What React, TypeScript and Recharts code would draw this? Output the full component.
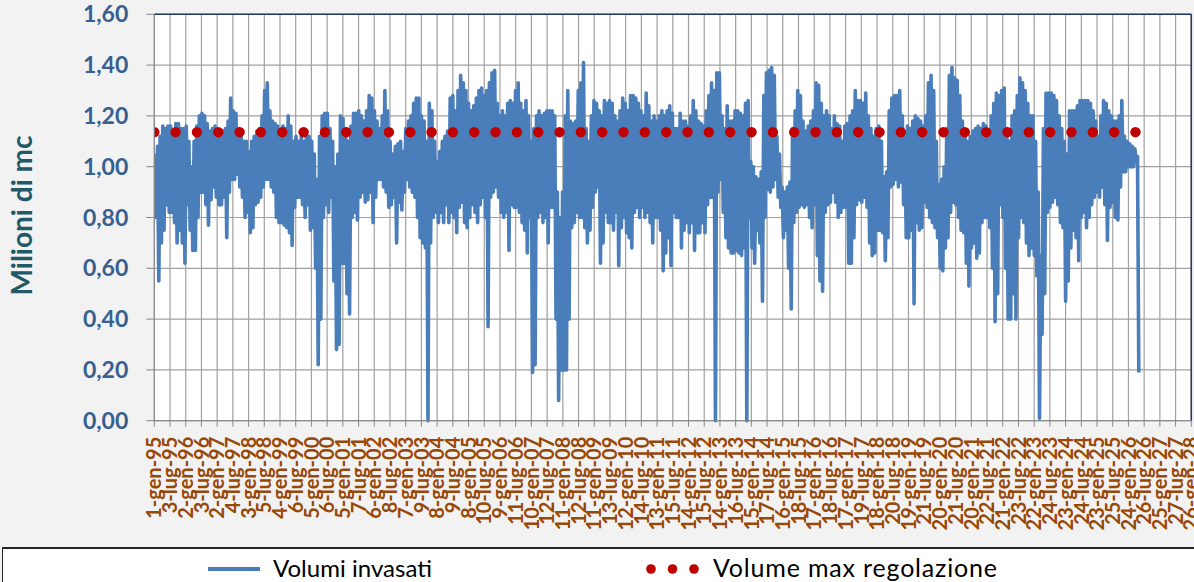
import React from 'react';
import { ComposedChart, Line, XAxis, YAxis, CartesianGrid, ReferenceLine } from 'recharts';

// Tick labels of the date axis (one every 183 days from 1-gen-95)
const tickLabels = [
  '1-gen-95', '3-lug-95', '2-gen-96', '3-lug-96', '2-gen-97', '4-lug-97', '3-gen-98', '5-lug-98',
  '4-gen-99', '6-lug-99', '5-gen-00', '6-lug-00', '5-gen-01', '7-lug-01', '6-gen-02', '8-lug-02',
  '7-gen-03', '9-lug-03', '8-gen-04', '9-lug-04', '8-gen-05', '10-lug-05', '9-gen-06', '11-lug-06',
  '10-gen-07', '12-lug-07', '11-gen-08', '12-lug-08', '11-gen-09', '13-lug-09', '12-gen-10', '14-lug-10',
  '13-gen-11', '15-lug-11', '14-gen-12', '15-lug-12', '14-gen-13', '16-lug-13', '15-gen-14', '17-lug-14',
  '16-gen-15', '18-lug-15', '17-gen-16', '18-lug-16', '17-gen-17', '19-lug-17', '18-gen-18', '20-lug-18',
  '19-gen-19', '21-lug-19', '20-gen-20', '21-lug-20', '20-gen-21', '22-lug-21', '21-gen-22', '23-lug-22',
  '22-gen-23', '24-lug-23', '23-gen-24', '24-lug-24', '23-gen-25', '25-lug-25', '24-gen-26', '26-lug-26',
  '25-gen-27', '27-lug-27', '26-gen-28',
];
const tickDays = tickLabels.map((_, i) => i * 183);

const yTicks = [0, 0.2, 0.4, 0.6, 0.8, 1.0, 1.2, 1.4, 1.6];

// Volumi invasati (milioni di mc): per month, high then low reading
const v1995 = [1.05,0.80, 1.08,0.55, 1.12,0.70, 1.16,0.75, 1.15,0.85, 1.16,0.82, 1.16,0.82, 1.14,0.78, 1.17,0.70, 1.17,0.75, 1.15,0.70, 1.15,0.62];
const v1996 = [1.16,0.85, 1.10,0.75, 1.00,0.67, 1.10,0.67, 1.16,0.80, 1.20,0.90, 1.21,0.90, 1.20,0.85, 1.17,0.77, 1.14,0.87, 1.15,0.92, 1.16,0.88];
const v1997 = [1.14,0.85, 1.12,0.85, 1.14,0.88, 1.15,0.72, 1.18,0.90, 1.27,0.95, 1.22,0.95, 1.21,0.97, 1.15,0.92, 1.12,0.88, 1.10,0.80, 1.10,0.82];
const v1998 = [1.06,0.74, 1.10,0.76, 1.12,0.85, 1.14,0.86, 1.15,0.88, 1.20,0.92, 1.30,0.95, 1.33,0.95, 1.22,0.92, 1.18,0.90, 1.17,0.80, 1.16,0.78];
const v1999 = [1.14,0.78, 1.16,0.77, 1.15,0.76, 1.20,0.74, 1.16,0.69, 1.10,0.84, 1.12,0.88, 1.10,0.88, 1.12,0.85, 1.10,0.80, 1.12,0.85, 1.12,0.75];
const v2000 = [1.10,0.76, 1.05,0.60, 0.95,0.22, 1.12,0.40, 1.20,0.80, 1.21,0.85, 1.21,0.82, 1.15,0.88, 1.10,0.55, 1.00,0.28, 1.05,0.30, 1.20,0.62];
const v2001 = [1.19,0.62, 1.15,0.50, 1.10,0.42, 1.16,0.80, 1.21,0.82, 1.21,0.79, 1.22,0.88, 1.20,0.90, 1.18,0.86, 1.22,0.87, 1.28,0.90, 1.27,0.78];
const v2002 = [1.22,0.88, 1.18,0.95, 1.15,0.95, 1.20,0.92, 1.30,0.90, 1.22,0.84, 1.10,0.85, 1.05,0.88, 1.08,0.70, 1.09,0.86, 1.10,0.83, 1.06,0.90];
const v2003 = [1.15,0.95, 1.18,0.92, 1.20,0.90, 1.25,0.88, 1.27,0.80, 1.27,0.72, 1.20,0.70, 1.18,0.68, 1.10,0.00, 1.25,0.70, 1.22,0.80, 1.10,0.82];
const v2004 = [1.02,0.78, 1.06,0.82, 1.10,0.78, 1.12,0.85, 1.14,0.78, 1.27,0.82, 1.28,0.80, 1.22,0.74, 1.30,0.84, 1.36,0.86, 1.33,0.78, 1.30,0.76];
const v2005 = [1.25,0.80, 1.22,0.85, 1.24,0.82, 1.27,0.78, 1.30,0.85, 1.31,0.88, 1.28,0.80, 1.30,0.37, 1.33,0.88, 1.37,0.90, 1.38,0.92, 1.25,0.88];
const v2006 = [1.20,0.82, 1.22,0.80, 1.20,0.82, 1.25,0.67, 1.26,0.85, 1.25,0.84, 1.30,0.84, 1.33,0.82, 1.25,0.78, 1.22,0.75, 1.26,0.66, 1.20,0.80];
const v2007 = [1.10,0.19, 1.15,0.22, 1.20,0.80, 1.22,0.82, 1.20,0.78, 1.21,0.80, 1.22,0.70, 1.22,0.84, 1.22,0.84, 1.20,0.40, 0.90,0.08, 0.80,0.20];
const v2008 = [0.90,0.20, 1.20,0.20, 1.30,0.40, 1.18,0.76, 1.17,0.78, 1.18,0.82, 1.30,0.80, 1.33,0.80, 1.41,0.76, 1.15,0.70, 1.10,0.75, 1.20,0.84];
const v2009 = [1.26,0.90, 1.25,0.92, 1.22,0.62, 1.20,0.70, 1.26,0.82, 1.25,0.78, 1.26,0.78, 1.25,0.75, 1.20,0.82, 1.18,0.61, 1.22,0.76, 1.27,0.80];
const v2010 = [1.25,0.74, 1.22,0.72, 1.28,0.68, 1.28,0.82, 1.27,0.84, 1.25,0.80, 1.22,0.84, 1.20,0.80, 1.29,0.82, 1.24,0.78, 1.18,0.70, 1.20,0.80];
const v2011 = [1.18,0.80, 1.20,0.75, 1.22,0.59, 1.20,0.66, 1.22,0.72, 1.24,0.61, 1.21,0.82, 1.15,0.80, 1.15,0.80, 1.21,0.68, 1.18,0.75, 1.18,0.78];
const v2012 = [1.16,0.74, 1.20,0.78, 1.26,0.67, 1.22,0.74, 1.18,0.74, 1.17,0.78, 1.16,0.74, 1.22,0.85, 1.28,0.88, 1.33,0.88, 1.30,0.00, 1.37,0.90];
const v2013 = [1.37,0.95, 1.20,0.82, 1.15,0.72, 1.24,0.68, 1.18,0.66, 1.18,0.66, 1.22,0.67, 1.22,0.66, 1.21,0.65, 1.20,0.68, 1.25,0.00, 1.26,0.80];
const v2014 = [1.02,0.68, 1.00,0.62, 0.96,0.75, 0.95,0.70, 0.98,0.47, 1.28,0.80, 1.37,0.91, 1.38,0.90, 1.39,0.92, 1.36,0.95, 1.12,0.88, 1.05,0.84];
const v2015 = [0.92,0.72, 0.90,0.75, 0.92,0.60, 0.94,0.44, 1.15,0.78, 1.22,0.82, 1.30,0.84, 1.28,0.85, 1.18,0.84, 1.14,0.85, 1.16,0.80, 1.18,0.76];
const v2016 = [1.22,0.85, 1.33,0.65, 1.32,0.55, 1.25,0.51, 1.20,0.82, 1.22,0.85, 1.20,0.86, 1.15,0.90, 1.20,0.86, 1.17,0.80, 1.16,0.82, 1.10,0.84];
const v2017 = [1.16,0.84, 1.17,0.62, 1.20,0.62, 1.22,0.72, 1.30,0.85, 1.26,0.87, 1.26,0.86, 1.25,0.88, 1.29,0.84, 1.20,0.70, 1.15,0.65, 1.12,0.66];
const v2018 = [1.15,0.75, 1.16,0.75, 1.10,0.74, 0.96,0.63, 0.98,0.72, 1.22,0.92, 1.27,0.93, 1.28,0.95, 1.28,0.92, 1.30,0.94, 1.20,0.85, 1.12,0.72];
const v2019 = [1.16,0.72, 1.15,0.75, 1.18,0.46, 1.20,0.78, 1.19,0.75, 1.18,0.76, 1.16,0.86, 1.20,0.84, 1.33,0.80, 1.36,0.78, 1.30,0.76, 1.10,0.72];
const v2020 = [0.93,0.60, 0.95,0.59, 1.00,0.68, 1.15,0.72, 1.36,0.82, 1.39,0.86, 1.35,0.85, 1.34,0.80, 1.28,0.75, 1.18,0.74, 1.12,0.62, 1.10,0.53];
const v2021 = [1.12,0.68, 1.14,0.70, 1.15,0.64, 1.16,0.66, 1.15,0.78, 1.17,0.80, 1.16,0.80, 1.14,0.76, 1.20,0.60, 1.25,0.39, 1.29,0.50, 1.28,0.85];
const v2022 = [1.30,0.80, 1.31,0.60, 1.15,0.40, 1.10,0.40, 1.20,0.50, 1.22,0.40, 1.28,0.72, 1.35,0.80, 1.33,0.78, 1.30,0.70, 1.25,0.65, 1.20,0.68];
const v2023 = [1.20,0.65, 1.10,0.57, 0.90,0.01, 0.65,0.34, 1.15,0.50, 1.29,0.82, 1.29,0.84, 1.29,0.86, 1.28,0.88, 1.26,0.85, 1.20,0.78, 1.15,0.76];
const v2024 = [1.10,0.47, 1.05,0.55, 1.22,0.68, 1.22,0.75, 1.22,0.72, 1.24,0.63, 1.26,0.80, 1.26,0.82, 1.26,0.76, 1.26,0.80, 1.25,0.85, 1.22,0.88];
const v2025 = [1.18,0.90, 1.12,0.88, 1.20,0.92, 1.26,0.85, 1.25,0.71, 1.22,0.84, 1.20,0.86, 1.18,0.80, 1.18,0.79, 1.20,0.92, 1.26,0.98, 1.12,0.98];
const v2026 = [1.10,1.00, 1.09,1.00, 1.08,1.00, 1.07,1.02, 1.04,0.19];

const yearSeries: [number, number[]][] = [
  [1995, v1995], [1996, v1996], [1997, v1997], [1998, v1998], [1999, v1999], [2000, v2000],
  [2001, v2001], [2002, v2002], [2003, v2003], [2004, v2004], [2005, v2005], [2006, v2006],
  [2007, v2007], [2008, v2008], [2009, v2009], [2010, v2010], [2011, v2011], [2012, v2012],
  [2013, v2013], [2014, v2014], [2015, v2015], [2016, v2016], [2017, v2017], [2018, v2018],
  [2019, v2019], [2020, v2020], [2021, v2021], [2022, v2022], [2023, v2023], [2024, v2024],
  [2025, v2025], [2026, v2026],
];

// Volume max regolazione (milioni di mc)
const maxRegolazione = 1.136;

// day offset from 1-gen-95 of each reading (high early in month, low later)
const volData = yearSeries.flatMap(([yr, vals]) =>
  vals.map((v, i) => ({
    d: (yr - 1995) * 365.25 + Math.floor(i / 2) * 30.44 + (i % 2 ? 22 : 7),
    v,
  }))
);
const lastDay = volData[volData.length - 1].d;
const maxData = [
  { d: 0, r: maxRegolazione },
  { d: lastDay, r: maxRegolazione },
];

const FONT = "Lato, 'DejaVu Sans', sans-serif";

const XTick = (props: any) => {
  const { x, y, payload } = props;
  const idx = Math.round(payload.value / 183);
  return (
    <text
      x={x}
      y={y}
      transform={`rotate(-90 ${x} ${y})`}
      textAnchor="end"
      dy="0.36em"
      fill="#984807"
      fontSize={20}
      fontWeight={700}
      fontFamily={FONT}
    >
      {tickLabels[idx]}
    </text>
  );
};

const YTitle = (props: any) => {
  const vb = props.viewBox || { x: 0, y: 14.3, width: 154.3, height: 406.4 };
  const cx = 22;
  const cy = vb.y + vb.height / 2 - 2;
  return (
    <text
      x={cx}
      y={cy}
      transform={`rotate(-90 ${cx} ${cy})`}
      textAnchor="middle"
      dy="0.36em"
      fill="#215968"
      fontSize={28}
      fontWeight={700}
      fontFamily={FONT}
    >
      Milioni di mc
    </text>
  );
};

export default function App() {
  return (
    <div
      style={{
        position: 'absolute',
        left: 0,
        top: 0,
        width: 1194,
        height: 582,
        background: '#f2f2f2',
        overflow: 'hidden',
      }}
    >
      <ComposedChart
        width={1194}
        height={548}
        data={volData}
        margin={{ top: 14.3, right: 2.7, bottom: 0, left: 0 }}
      >
        <CartesianGrid stroke="#a0a0a0" strokeWidth={1.2} fill="#ffffff" />
        <XAxis
          type="number"
          dataKey="d"
          domain={[0, 12078]}
          ticks={tickDays}
          interval={0}
          allowDataOverflow
          height={127.3}
          tickSize={6}
          tickMargin={10}
          stroke="#868686"
          tick={<XTick />}
        />
        <YAxis
          type="number"
          domain={[0, 1.6]}
          ticks={yTicks}
          interval={0}
          width={154.3}
          tickSize={8}
          tickMargin={18}
          stroke="#868686"
          tickFormatter={(v: number) => v.toFixed(2).replace('.', ',')}
          tick={{ fill: '#376092', fontSize: 23, fontWeight: 700, fontFamily: FONT }}
          label={<YTitle />}
        />
        <ReferenceLine y={1.6} stroke="#1f3864" strokeWidth={1.5} />
        <ReferenceLine x={12078} stroke="#1f3864" strokeWidth={1.5} />
        <Line
          dataKey="v"
          stroke="#4a7ebb"
          strokeWidth={3.6}
          dot={false}
          activeDot={false}
          strokeLinejoin="round"
          isAnimationActive={false}
        />
        <Line
          data={maxData}
          dataKey="r"
          stroke="#c00000"
          strokeWidth={10.5}
          strokeLinecap="round"
          strokeDasharray="0 21.33"
          dot={false}
          activeDot={false}
          isAnimationActive={false}
        />
      </ComposedChart>
      <div
        style={{
          position: 'absolute',
          left: 2,
          top: 547,
          width: 1200,
          height: 50,
          background: '#ffffff',
          borderTop: '2px solid #262626',
          borderLeft: '1px solid #262626',
        }}
      />
      <svg
        width={1194}
        height={35}
        style={{ position: 'absolute', left: 0, top: 547 }}
      >
        <line x1={208} x2={260} y1={22} y2={22} stroke="#4a7ebb" strokeWidth={4} />
        <text x={273} y={30} fontSize={24} fontFamily={FONT} fill="#000000" textLength={159} lengthAdjust="spacing">
          Volumi invasati
        </text>
        <circle cx={651} cy={22} r={4.8} fill="#c00000" />
        <circle cx={672.5} cy={22} r={4.8} fill="#c00000" />
        <circle cx={694} cy={22} r={4.8} fill="#c00000" />
        <text x={713} y={30} fontSize={25} fontFamily={FONT} fill="#000000" textLength={284} lengthAdjust="spacing">
          Volume max regolazione
        </text>
      </svg>
    </div>
  );
}
